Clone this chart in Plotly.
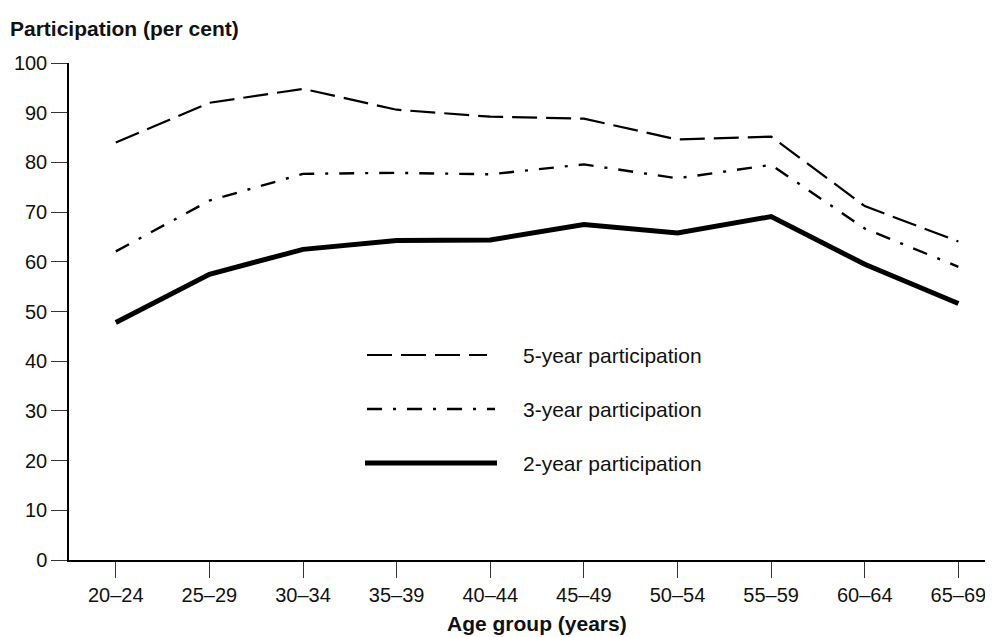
import plotly.graph_objects as go

age_groups = ["20–24", "25–29", "30–34", "35–39", "40–44", "45–49", "50–54", "55–59", "60–64", "65–69"]
five_year = [84.0, 92.0, 94.8, 90.6, 89.2, 88.8, 84.6, 85.2, 71.2, 64.1]
three_year = [62.1, 72.3, 77.7, 77.9, 77.6, 79.6, 76.8, 79.5, 66.7, 59.0]
two_year = [47.8, 57.5, 62.5, 64.3, 64.4, 67.5, 65.8, 69.1, 59.5, 51.6]

series_names = ["5-year participation", "3-year participation", "2-year participation"]

FONT = "Liberation Sans, Arial, sans-serif"
OFF = 8  # page body margin
W, H = 993 - OFF, 637 - OFF
ML, MR, MT = 69 - OFF, 0, 63 - OFF
MB = H - (560 - OFF)
PW, PH = W - ML - MR, H - MT - MB

def px_x(px):
    return (px - OFF - ML) / PW

def px_y(py):
    return (H - MB - (py - OFF)) / PH

styles = [
    dict(color="black", width=2.2, dash="25px,9px"),
    dict(color="black", width=2.4, dash="15px,11px,3px,11px"),
    dict(color="black", width=5, dash="solid"),
]

fig = go.Figure()
for name, vals, st in zip(series_names, [five_year, three_year, two_year], styles):
    fig.add_trace(go.Scatter(x=age_groups, y=vals, mode="lines", name=name,
                             line=st, showlegend=False))

# Manual legend (line samples + labels)
legend_rows = [(367, 487, 355), (367, 495, 409), (365, 497, 463)]
for (x0, x1, yy), name, st in zip(legend_rows, series_names, styles):
    fig.add_shape(type="line", xref="paper", yref="paper",
                  x0=px_x(x0), x1=px_x(x1), y0=px_y(yy), y1=px_y(yy),
                  line=dict(color="black", width=st["width"], dash=st["dash"]))
    fig.add_annotation(xref="paper", yref="paper", x=px_x(521), y=px_y(yy),
                       xanchor="left", yanchor="middle", showarrow=False,
                       text=name, font=dict(family=FONT, size=21, color="#111"))

fig.add_annotation(xref="paper", yref="paper", x=px_x(8), y=px_y(28),
                   xanchor="left", yanchor="middle", showarrow=False,
                   text="<b>Participation (per cent)</b>",
                   font=dict(family=FONT, size=21, color="#111"))
fig.add_annotation(xref="paper", yref="paper", x=px_x(537), y=px_y(623),
                   xanchor="center", yanchor="middle", showarrow=False,
                   text="<b>Age group (years)</b>",
                   font=dict(family=FONT, size=21, color="#111"))

fig.update_layout(
    width=W, height=H,
    margin=dict(l=ML, r=MR, t=MT, b=MB),
    plot_bgcolor="white", paper_bgcolor="white",
    font=dict(family=FONT, size=20, color="#111"),
)
fig.update_xaxes(type="category", range=[-0.5, 9.37], showline=True, linecolor="black",
                 linewidth=1.5, ticks="outside", ticklen=16, tickcolor="#333", tickwidth=1.2,
                 showgrid=False, zeroline=False, tickfont=dict(family=FONT, size=20))
fig.update_yaxes(range=[0, 100], dtick=10, showline=True, linecolor="black", linewidth=1.5,
                 ticks="outside", ticklen=16, tickcolor="#333", tickwidth=1.2,
                 showgrid=False, zeroline=False, tickfont=dict(family=FONT, size=20))

fig.write_html("out.html")
